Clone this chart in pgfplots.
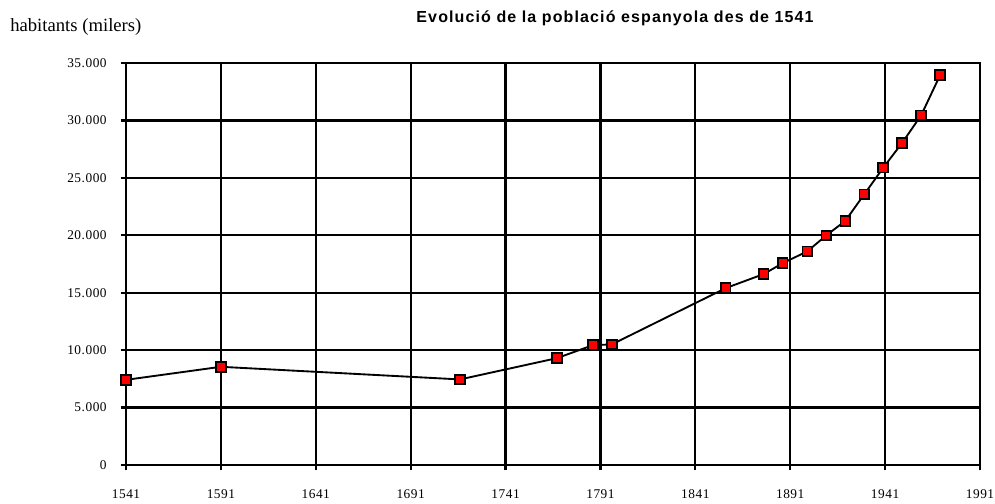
\documentclass[border=0pt]{standalone}
\usepackage{fontspec}
\setmainfont{Liberation Serif}
\newfontfamily\titlefont[LetterSpace=7]{Liberation Sans}
\newfontfamily\tickfont[LetterSpace=4]{Liberation Serif}
\usepackage{pgfplots}
\pgfplotsset{compat=1.18}
\begin{document}
\begin{tikzpicture}
\path[use as bounding box] (0pt,0pt) rectangle (746.25pt,377.25pt);
\node[anchor=base west,inner sep=0pt,font=\fontsize{14}{16}\selectfont] at (7.5pt,353.25pt) {habitants (milers)};
\node[anchor=base,inner sep=0pt,font=\titlefont\bfseries\fontsize{12}{14}\selectfont] at (461.25pt,360pt) {Evolució de la població espanyola des de 1541};
\begin{axis}[
  at={(94.5pt,28.5pt)}, anchor=origin,
  scale only axis,
  width=640.5pt, height=301.5pt,
  xmin=1541, xmax=1991, ymin=0, ymax=35000,
  xtick={1541,1591,...,1991},
  ytick={0,5000,...,35000},
  grid=major,
  major grid style={black,line width=1.7pt},
  axis line style={black,line width=1.7pt},
  tick style={black,line width=1.7pt},
  major tick length=4pt,
  tick align=outside,
  xtick pos=bottom, ytick pos=left,
  scaled y ticks=false,
  /pgf/number format/assume math mode=true,
  xticklabel style={font=\tickfont\fontsize{10}{11}\selectfont,/pgf/number format/1000 sep={},yshift=-21pt,anchor=base,text depth=0pt},
  yticklabel style={font=\tickfont\fontsize{10}{11}\selectfont,/pgf/number format/1000 sep={.},xshift=-7pt},
  clip=false,
]
\addplot[black,line width=1.4pt,mark=square*,mark size=3.6pt,
  mark options={fill=red,draw=black,line width=1.4pt}]
coordinates {
(1541,7414) (1591,8550) (1717,7450) (1768,9300) (1787,10430) (1797,10500)
(1857,15400) (1877,16622) (1887,17570) (1900,18600) (1910,19990) (1920,21250)
(1930,23564) (1940,25880) (1950,28050) (1960,30450) (1970,33950)
};
\end{axis}
\end{tikzpicture}
\end{document}
